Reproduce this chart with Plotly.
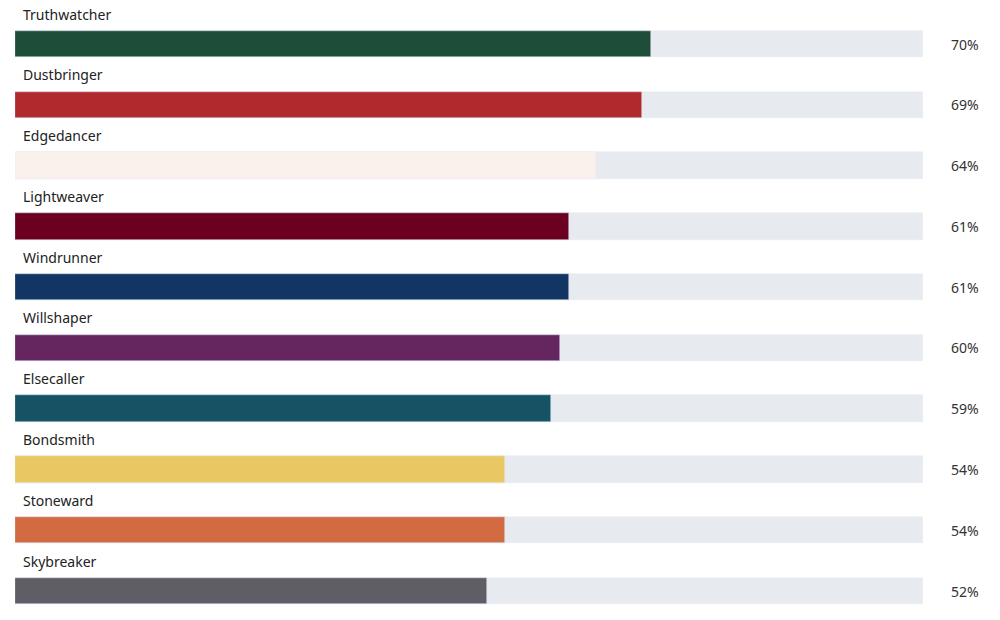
import plotly.graph_objects as go

names = ["Truthwatcher", "Dustbringer", "Edgedancer", "Lightweaver", "Windrunner",
         "Willshaper", "Elsecaller", "Bondsmith", "Stoneward", "Skybreaker"]
values = [70, 69, 64, 61, 61, 60, 59, 54, 54, 52]
colors = ["#1e4d3a", "#b0292c", "#fbf1ec", "#6b0020", "#133563",
          "#652660", "#145264", "#e9c864", "#d26b42", "#5f5d66"]
track_color = "#e7eaee"
font_family = "Source Sans Pro, Noto Sans, sans-serif"

rows = list(range(len(names)))
W, H = 1000, 620
pitch = (591 - 44) / 9.0
bar_w = 26.5 / pitch
top = -44 / pitch
bottom = top + H / pitch

fig = go.Figure()
fig.add_trace(go.Bar(
    y=rows, x=[100] * len(rows), orientation="h", marker_color=track_color,
    width=bar_w, hoverinfo="skip", showlegend=False,
))
fig.add_trace(go.Bar(
    y=rows, x=values, orientation="h", marker_color=colors,
    width=bar_w, showlegend=False,
    hovertext=names, hovertemplate="%{hovertext}: %{x}%<extra></extra>",
))

annotations = []
for r, n, v in zip(rows, names, values):
    annotations.append(dict(
        x=0, y=r - 30 / pitch, xref="x", yref="y", text=n, showarrow=False,
        xanchor="left", yanchor="middle", xshift=6,
        font=dict(family=font_family, size=14, color="#222222"),
    ))
    annotations.append(dict(
        x=100, y=r, xref="x", yref="y", text=f"{v}%", showarrow=False,
        xanchor="center", yanchor="middle", xshift=42,
        font=dict(family=font_family, size=14, color="#333333"),
    ))

fig.update_layout(
    width=W, height=H,
    margin=dict(l=15, r=77, t=0, b=0),
    barmode="overlay",
    plot_bgcolor="white", paper_bgcolor="white",
    xaxis=dict(range=[0, 100], visible=False, fixedrange=True),
    yaxis=dict(range=[bottom, top], visible=False, fixedrange=True),
    annotations=annotations,
    bargap=0,
)
fig.write_html("out.html")
